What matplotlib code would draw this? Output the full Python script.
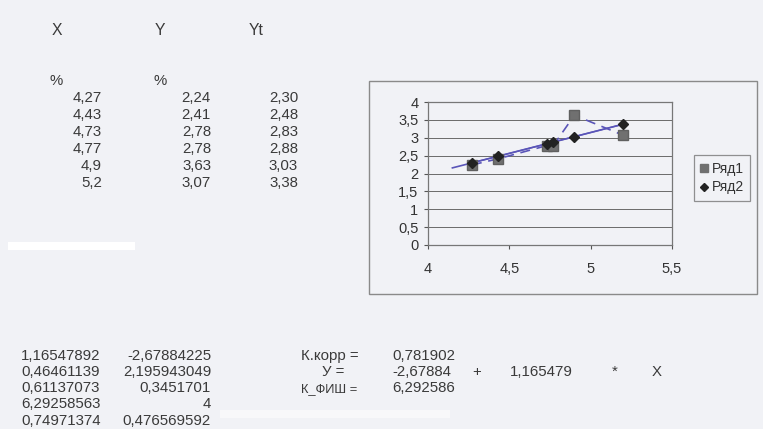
import matplotlib
matplotlib.use("Agg")
import matplotlib.pyplot as plt
import numpy as np
from matplotlib.patches import Rectangle
from matplotlib.lines import Line2D

plt.rcParams['font.family'] = ['Liberation Sans', 'DejaVu Sans']

# ---- data ----
x_vals = [4.27, 4.43, 4.73, 4.77, 4.9, 5.2]
x_labels = ["4,27", "4,43", "4,73", "4,77", "4,9", "5,2"]
y_vals = [2.24, 2.41, 2.78, 2.78, 3.63, 3.07]
y_labels = ["2,24", "2,41", "2,78", "2,78", "3,63", "3,07"]
yt_vals = [2.30, 2.48, 2.83, 2.88, 3.03, 3.38]
yt_labels = ["2,30", "2,48", "2,83", "2,88", "3,03", "3,38"]
series_names = ["Ряд1", "Ряд2"]
x_ticks = [4, 4.5, 5, 5.5]
x_tick_labels = ["4", "4,5", "5", "5,5"]
y_ticks = [0, 0.5, 1, 1.5, 2, 2.5, 3, 3.5, 4]
y_tick_labels = ["0", "0,5", "1", "1,5", "2", "2,5", "3", "3,5", "4"]
trend_start = 4.15

linest_col1 = ["1,16547892", "0,46461139", "0,61137073", "6,29258563", "0,74971374"]
linest_col2 = ["-2,67884225", "2,195943049", "0,3451701", "4", "0,476569592"]
stats_labels = ["К.корр =", "У =", "К_ФИШ ="]
stats_values = ["0,781902", "-2,67884", "6,292586"]
eq_slope = "1,165479"

W, H = 763, 429
fig = plt.figure(figsize=(W / 100, H / 100), dpi=100)
bg = '#f1f2f6'
fig.patch.set_facecolor(bg)

def fx(px):
    return px / W

def fy(py):
    return 1 - py / H

txt_color = '#3a3a3a'
fs = 10.8

# white scan strips
fig.patches.append(Rectangle((fx(8), fy(250)), fx(127), 8 / H, transform=fig.transFigure,
                             facecolor='white', edgecolor='none', zorder=0))
fig.patches.append(Rectangle((fx(220), fy(418)), fx(230), 8 / H, transform=fig.transFigure,
                             facecolor='#f8f8fa', edgecolor='none', zorder=0))

def put(px, py, s, ha='left', size=fs):
    fig.text(fx(px), fy(py), s, fontsize=size, color=txt_color, va='baseline', ha=ha)

# header (baseline positions)
put(52, 35, "X", size=fs + 0.5)
put(155, 35, "Y", size=fs + 0.5)
put(249, 35, "Yt", size=fs + 0.5)
put(49, 85, "%")
put(153, 85, "%")

row_base = [102, 119, 136, 153, 170, 187]
for i in range(len(x_labels)):
    put(102, row_base[i], x_labels[i], ha='right')
    put(211, row_base[i], y_labels[i], ha='right')
    put(298, row_base[i], yt_labels[i], ha='right')

# bottom-left LINEST block
brow_base = [360, 376, 392, 408, 425]
for i in range(len(linest_col1)):
    put(21, brow_base[i], linest_col1[i])
    put(211, brow_base[i], linest_col2[i], ha='right')

# stats block
stat_base = [360, 376, 392]
put(301, stat_base[0], stats_labels[0])
put(322, stat_base[1], stats_labels[1])
put(301, stat_base[2], stats_labels[2], size=fs - 1.5)
for i, v in enumerate(stats_values):
    put(392, stat_base[i], v)
put(477, stat_base[1], "+", ha='center')
put(510, stat_base[1], eq_slope)
put(615, stat_base[1], "*", ha='center')
put(657, stat_base[1], "X", ha='center')

# chart outer box
fig.patches.append(Rectangle((fx(369), fy(294)), fx(757 - 369), (294 - 81) / H,
                             transform=fig.transFigure, facecolor=bg,
                             edgecolor='#8a8a8a', linewidth=1.0, zorder=1))

ax = fig.add_axes([fx(428), fy(245), fx(672 - 428), (245 - 102) / H], zorder=2)
ax.set_facecolor(bg)
ax.set_xlim(4, 5.5)
ax.set_ylim(0, 4)
ax.set_xticks(x_ticks)
ax.set_xticklabels(x_tick_labels)
ax.set_yticks(y_ticks)
ax.set_yticklabels(y_tick_labels)
ax.tick_params(labelsize=10.5, colors='#555555', labelcolor='#333333', length=3, width=0.8,
               direction='out', pad=4)
ax.tick_params(axis='x', pad=9)
for s in ax.spines.values():
    s.set_color('#777777')
    s.set_linewidth(0.9)
ax.grid(axis='y', color='#6a6a6a', linewidth=0.7)
ax.set_axisbelow(True)

line_col = '#5a55b8'
# Ряд1 dashed with squares
ax.plot(x_vals, y_vals, linestyle=(0, (6, 4)), color=line_col, linewidth=1.2, zorder=3)
ax.plot(x_vals, y_vals, linestyle='none', marker='s', markersize=7.5, color='#707070',
        markeredgecolor='#606060', zorder=4)
# Ряд2 trendline (linear fit) extended backwards
coef = np.polyfit(x_vals, yt_vals, 1)
tx = np.array([trend_start, x_vals[-1]])
ax.plot(tx, np.polyval(coef, tx), color=line_col, linewidth=1.2, zorder=3)
ax.plot(x_vals, yt_vals, color=line_col, linewidth=1.0, zorder=3)
ax.plot(x_vals, yt_vals, linestyle='none', marker='D', markersize=5, color='#222222', zorder=5)

# legend
handles = [Line2D([], [], linestyle='none', marker='s', markersize=6, color='#707070'),
           Line2D([], [], linestyle='none', marker='D', markersize=4.5, color='#222222')]
leg = fig.legend(handles, series_names, loc='center', bbox_to_anchor=(fx(722), fy(178)),
                 fontsize=10, frameon=True, fancybox=False, handlelength=0.6,
                 handletextpad=0.2, borderpad=0.45, labelspacing=0.35, borderaxespad=0)
leg.get_frame().set_edgecolor('#777777')
leg.get_frame().set_facecolor(bg)
leg.get_frame().set_linewidth(0.9)
for t in leg.get_texts():
    t.set_color('#333333')

fig.savefig("out.png", dpi=100, facecolor=fig.get_facecolor())
